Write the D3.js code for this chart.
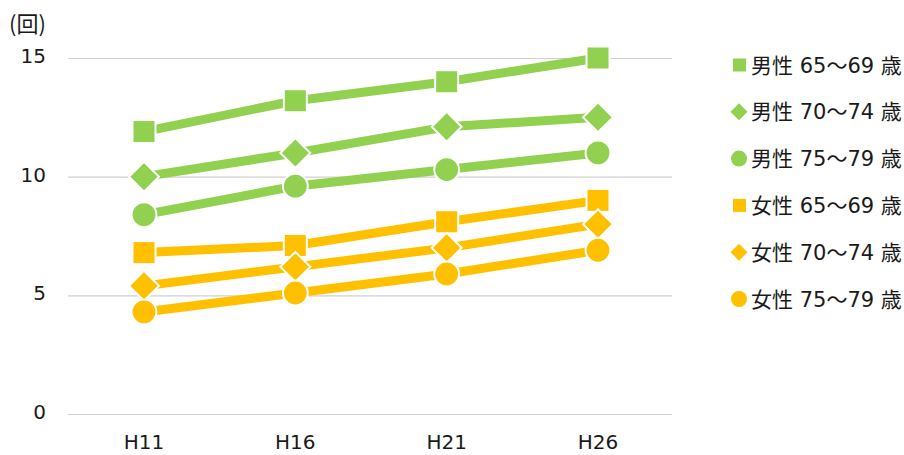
<!DOCTYPE html>
<html><head><meta charset="utf-8">
<script src="https://cdn.jsdelivr.net/npm/d3@7"></script>
<style>body{margin:0;background:#fff}svg{display:block}text{font-family:"DejaVu Sans","Noto Sans CJK JP",sans-serif;fill:#1a1a1a}</style>
</head><body><svg id="c" width="904" height="455"></svg>
<script>
const categories = ["H11","H16","H21","H26"];
const seriesNames = ["男性 65～69 歳","男性 70～74 歳","男性 75～79 歳","女性 65～69 歳","女性 70～74 歳","女性 75～79 歳"];
const male6569 = [11.9,13.2,14.0,15.0];
const male7074 = [10.0,11.0,12.1,12.5];
const male7579 = [8.4,9.6,10.3,11.0];
const female6569 = [6.8,7.1,8.1,9.0];
const female7074 = [5.4,6.2,7.0,8.0];
const female7579 = [4.3,5.1,5.9,6.9];
const yTicks = [0,5,10,15];
const unitLabel = "(回)";

const values = [male6569,male7074,male7579,female6569,female7074,female7579];
const colors = ["#92D050","#92D050","#92D050","#FFC000","#FFC000","#FFC000"];
const shapes = ["square","diamond","circle","square","diamond","circle"];

const svg = d3.select("#c");
const x = d3.scalePoint().domain(categories).range([144,598]);
const y = d3.scaleLinear().domain([0,15]).range([414,58]);

svg.append("g").selectAll("line").data(yTicks).join("line")
  .attr("x1",68).attr("x2",672).attr("y1",d=>y(d)+0.5).attr("y2",d=>y(d)+0.5)
  .attr("stroke","#d0d0d0").attr("stroke-width",1.2);
svg.append("g").selectAll("text").data(yTicks).join("text")
  .attr("x",46).attr("y",d=>y(d)+5).attr("text-anchor","end")
  .attr("font-size",20).text(d=>d);
svg.append("text").attr("x",9).attr("y",32).attr("font-size",22)
  .style("font-family","'Noto Sans CJK JP',sans-serif").text(unitLabel);
svg.append("g").selectAll("text").data(categories).join("text")
  .attr("x",d=>x(d)).attr("y",449).attr("text-anchor","middle").attr("font-size",20).text(d=>d);

function marker(g, shape, cx, cy, color, s){
  if(shape==="square"){
    g.append("rect").attr("x",cx-s).attr("y",cy-s).attr("width",2*s).attr("height",2*s)
     .attr("fill",color).attr("stroke","#fff").attr("stroke-width",2);
  } else if(shape==="diamond"){
    const r=s*1.3;
    g.append("path").attr("d",`M${cx},${cy-r}L${cx+r},${cy}L${cx},${cy+r}L${cx-r},${cy}Z`)
     .attr("fill",color).attr("stroke","#fff").attr("stroke-width",2);
  } else {
    g.append("circle").attr("cx",cx).attr("cy",cy).attr("r",s*1.08)
     .attr("fill",color).attr("stroke","#fff").attr("stroke-width",2);
  }
}

const line = d3.line().x((d,i)=>x(categories[i])).y(d=>y(d));
values.forEach((vals,si)=>{
  const g = svg.append("g");
  g.append("path").attr("d",line(vals)).attr("fill","none").attr("stroke",colors[si])
   .attr("stroke-width",9).attr("stroke-linejoin","round");
  vals.forEach((v,i)=>marker(g,shapes[si],x(categories[i]),y(v),colors[si],11.5));
});

const lg = svg.append("g");
seriesNames.forEach((name,i)=>{
  const cy = 65 + i*46.8;
  const shape = shapes[i];
  if(shape==="square") lg.append("rect").attr("x",733).attr("y",cy-6.5).attr("width",13).attr("height",13).attr("fill",colors[i]);
  else if(shape==="diamond") lg.append("path").attr("d",`M${739},${cy-8.5}L${747.5},${cy}L${739},${cy+8.5}L${730.5},${cy}Z`).attr("fill",colors[i]);
  else lg.append("circle").attr("cx",739).attr("cy",cy).attr("r",8).attr("fill",colors[i]);
  lg.append("text").attr("x",751).attr("y",cy+7.5).attr("font-size",21).text(name);
});
</script></body></html>
